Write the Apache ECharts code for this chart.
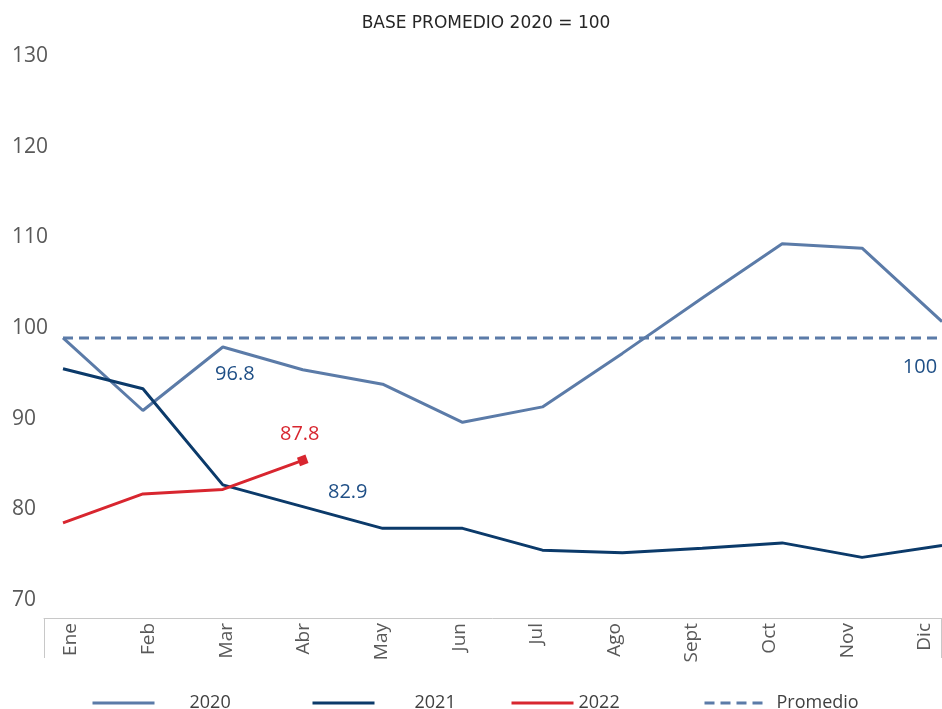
<!DOCTYPE html>
<html>
<head>
<meta charset="utf-8">
<script src="https://cdn.jsdelivr.net/npm/echarts@6/dist/echarts.min.js"></script>
<style>
  html, body { margin: 0; padding: 0; background: #fff; }
  #main { width: 942px; height: 709px; }
</style>
</head>
<body>
<div id="main"></div>
<script>
var months = ['Ene', 'Feb', 'Mar', 'Abr', 'May', 'Jun', 'Jul', 'Ago', 'Sept', 'Oct', 'Nov', 'Dic'];
var values2020 = [98.9, 90.9, 97.9, 95.4, 93.8, 89.6, 91.3, 97.2, 103.3, 109.3, 108.8, 100.7];
var values2021 = [95.5, 93.3, 82.7, 80.3, 77.9, 77.9, 75.5, 75.2, 75.7, 76.3, 74.7, 76.0];
var values2022 = [78.5, 81.7, 82.2, 85.4];
var promedio = [98.9, 98.9, 98.9, 98.9, 98.9, 98.9, 98.9, 98.9, 98.9, 98.9, 98.9, 98.9];
// etiquetas de datos que aparecen en el grafico
var labels2020 = ['', '', '96.8', '', '', '', '', '', '', '', '', '100'];
var labels2021 = ['', '', '', '82.9', '', '', '', '', '', '', '', ''];
var labels2022 = ['', '', '', '87.8'];
var yTicks = [70, 130, 10];

var chartDom = document.getElementById('main');
var myChart = echarts.init(chartDom);
var font = 'Open Sans';
var blue = '#5b7ba8';
var navy = '#0b3a6a';
var red = '#d8262f';
var labelBlue = '#1f4f86';

// posiciones de las etiquetas (solo estilo)
var labelOffsets = {
    '96.8': [12, 27],
    '82.9': [45, -14],
    '87.8': [-3, -26],
    '100': [-22, 46]
};

function withLabels(values, labels, color) {
    return values.map(function (v, i) {
        var txt = labels[i];
        if (!txt) return v;
        return {
            value: v,
            symbol: 'circle',
            symbolSize: 0.1,
            label: {
                show: true,
                position: 'inside',
                offset: labelOffsets[txt],
                formatter: txt,
                color: color,
                fontSize: 20,
                fontFamily: font
            }
        };
    });
}

var data2022 = withLabels(values2022, labels2022, red);
var last = data2022[data2022.length - 1];
last.symbol = 'rect';
last.symbolSize = 9;
last.symbolRotate = 20;
last.itemStyle = { color: red };

var legendBase = {
    top: 689,
    itemWidth: 62,
    itemHeight: 14,
    itemStyle: { opacity: 0 },
    lineStyle: { width: 3 },
    textStyle: { fontSize: 18, color: '#404040', fontFamily: font }
};

function legendAt(left, name, gap) {
    return Object.assign({}, legendBase, {
        left: left,
        data: [name],
        textStyle: Object.assign({}, legendBase.textStyle, { padding: [0, 0, 0, gap] })
    });
}

var option = {
    animation: false,
    title: {
        text: 'BASE PROMEDIO 2020 = 100',
        left: 481,
        top: 10,
        textAlign: 'center',
        textStyle: { fontSize: 17, fontWeight: 'normal', color: '#262626', fontFamily: 'DejaVu Sans' }
    },
    legend: [
        legendAt(86, '2020', 30),
        legendAt(306, '2021', 35),
        legendAt(505, '2022', 0),
        legendAt(698, 'Promedio', 5)
    ],
    grid: [
        { left: 63, right: 0, top: 56, bottom: 109 },
        { left: 71, right: 17, top: 56, bottom: 91 },
        { left: 44, right: 1, top: 56, bottom: 91 }
    ],
    xAxis: [
        {
            type: 'category', gridIndex: 0, data: months, boundaryGap: false, show: false
        },
        {
            // eje de etiquetas de meses
            type: 'value', gridIndex: 1, min: 0, max: months.length - 1, interval: 1,
            axisLine: { show: false },
            axisTick: { show: false },
            splitLine: { show: false },
            axisLabel: {
                rotate: 90, margin: 5, fontSize: 19, color: '#595959', fontFamily: font,
                formatter: function (v) { return months[v] || ''; }
            }
        },
        {
            type: 'value', gridIndex: 2, min: 0, max: 1, interval: 1,
            axisLine: { lineStyle: { color: '#c8c8c8', width: 1 } },
            axisTick: { length: 40, lineStyle: { color: '#c8c8c8' } },
            axisLabel: { show: false },
            splitLine: { show: false }
        }
    ],
    yAxis: [
        {
            type: 'value', gridIndex: 0, min: yTicks[0], max: yTicks[1], interval: yTicks[2],
            axisLine: { show: false }, axisTick: { show: false }, splitLine: { show: false },
            axisLabel: { align: 'left', margin: 51, fontSize: 21, color: '#595959', fontFamily: font }
        },
        { type: 'value', gridIndex: 1, min: 0, max: 1, show: false },
        { type: 'value', gridIndex: 2, min: 0, max: 1, show: false }
    ],
    series: [
        {
            name: 'Promedio', type: 'line', data: promedio, symbol: 'none',
            lineStyle: { color: blue, width: 3, type: [10, 6] }, itemStyle: { color: blue }
        },
        {
            name: '2020', type: 'line', data: withLabels(values2020, labels2020, labelBlue), symbol: 'none',
            lineStyle: { color: blue, width: 3 }, itemStyle: { color: blue }
        },
        {
            name: '2021', type: 'line', data: withLabels(values2021, labels2021, labelBlue), symbol: 'none',
            lineStyle: { color: navy, width: 3 }, itemStyle: { color: navy }
        },
        {
            name: '2022', type: 'line', data: data2022, symbol: 'none',
            lineStyle: { color: red, width: 3 }, itemStyle: { color: red }
        }
    ]
};

option && myChart.setOption(option);
</script>
</body>
</html>
